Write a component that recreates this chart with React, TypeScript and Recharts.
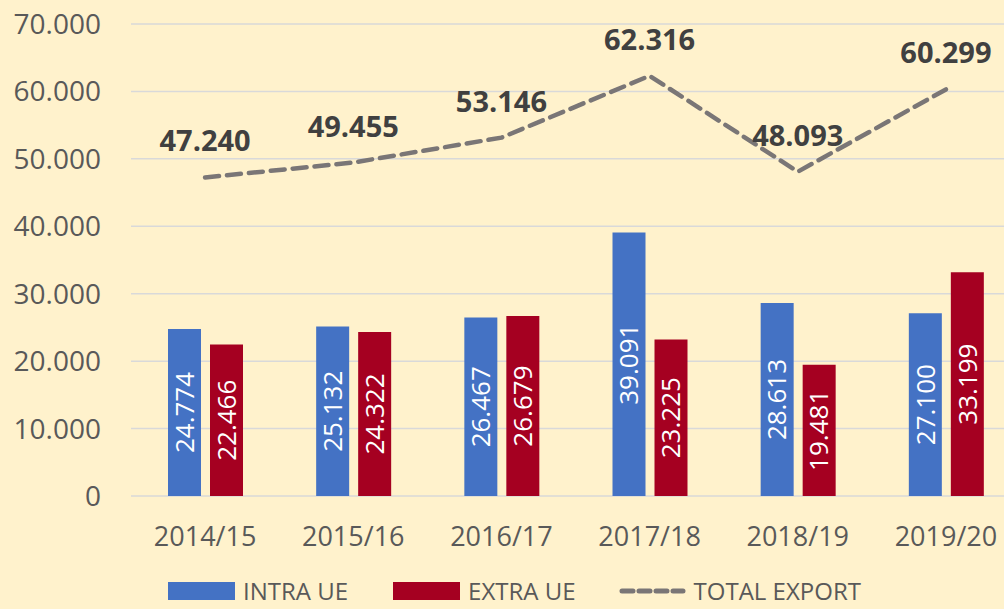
import React from "react";
import {
  ComposedChart,
  Bar,
  Line,
  XAxis,
  YAxis,
  CartesianGrid,
  LabelList,
  Legend,
} from "recharts";

const categories = ["2014/15", "2015/16", "2016/17", "2017/18", "2018/19", "2019/20"];
const intraUe = [24774, 25132, 26467, 39091, 28613, 27100];
const extraUe = [22466, 24322, 26679, 23225, 19481, 33199];
const totalExport = [47240, 49455, 53146, 62316, 48093, 60299];
const yTicks = [0, 10000, 20000, 30000, 40000, 50000, 60000, 70000];

const data = categories.map((cat, i) => ({
  cat,
  intra: intraUe[i],
  extra: extraUe[i],
  total: totalExport[i],
}));

const BLUE = "#4472C4";
const RED = "#A50021";
const GRAY = "#7A7676";
const FONT = "'Open Sans', 'Noto Sans', sans-serif";

// 47240 -> "47.240"
function fmt(v: any) {
  const n = Math.round(Number(v));
  if (n < 1000) return String(n);
  const rest = String(n % 1000).padStart(3, "0");
  return `${Math.floor(n / 1000)}.${rest}`;
}

function LegendBox() {
  const text = { fontFamily: FONT, fontSize: 24, color: "#595959", lineHeight: "24px" };
  return (
    <div
      style={{
        display: "flex",
        alignItems: "center",
        height: 24,
        paddingBottom: 6,
        marginLeft: 168,
      }}
    >
      <div style={{ width: 67, height: 18, background: BLUE }} />
      <span style={{ ...text, marginLeft: 8 }}>INTRA UE</span>
      <div style={{ width: 67, height: 18, background: RED, marginLeft: 45 }} />
      <span style={{ ...text, marginLeft: 8 }}>EXTRA UE</span>
      <svg width={67} height={18} style={{ marginLeft: 43 }}>
        <line x1={3} y1={9} x2={64} y2={9} stroke={GRAY} strokeWidth={5} strokeDasharray="11 6" strokeLinecap="round" />
      </svg>
      <span style={{ ...text, marginLeft: 8 }}>TOTAL EXPORT</span>
    </div>
  );
}

export default function App() {
  return (
    <div
      style={{
        position: "fixed",
        left: 0,
        top: 0,
        width: 1004,
        height: 609,
        overflow: "hidden",
        background: "#FFF2CC",
      }}
    >
      <ComposedChart
        width={1030}
        height={609}
        data={data}
        margin={{ top: 24, right: 10, left: 0, bottom: 0 }}
        barGap={9}
      >
        <CartesianGrid vertical={false} stroke="#D9D9D9" strokeWidth={1.5} />
        <XAxis
          dataKey="cat"
          tickLine={false}
          axisLine={false}
          interval={0}
          height={83}
          tickMargin={25}
          tick={{ fill: "#595959", fontSize: 27, fontFamily: FONT }}
        />
        <YAxis
          domain={[0, 70000]}
          ticks={yTicks}
          tickFormatter={fmt}
          tickLine={false}
          axisLine={false}
          width={131}
          tickMargin={24}
          tick={{ fill: "#595959", fontSize: 28, fontFamily: FONT }}
        />
        <Legend
          verticalAlign="bottom"
          height={30}
          wrapperStyle={{ left: 0, width: 1030, height: 30 }}
          content={() => <LegendBox />}
        />
        <Bar dataKey="intra" fill={BLUE} barSize={33} isAnimationActive={false}>
          <LabelList
            dataKey="intra"
            position="center"
            angle={-90}
            formatter={fmt}
            fill="#FFFFFF"
            fontSize={26}
            fontFamily={FONT}
          />
        </Bar>
        <Bar dataKey="extra" fill={RED} barSize={33} isAnimationActive={false}>
          <LabelList
            dataKey="extra"
            position="center"
            angle={-90}
            formatter={fmt}
            fill="#FFFFFF"
            fontSize={26}
            fontFamily={FONT}
          />
        </Bar>
        <Line
          dataKey="total"
          type="linear"
          stroke={GRAY}
          strokeWidth={4.5}
          strokeDasharray="14 8"
          strokeLinecap="round"
          dot={false}
          activeDot={false}
          isAnimationActive={false}
        >
          <LabelList
            dataKey="total"
            position="top"
            offset={26}
            formatter={fmt}
            fill="#404040"
            fontSize={29}
            fontWeight="bold"
            fontFamily={FONT}
          />
        </Line>
      </ComposedChart>
    </div>
  );
}
